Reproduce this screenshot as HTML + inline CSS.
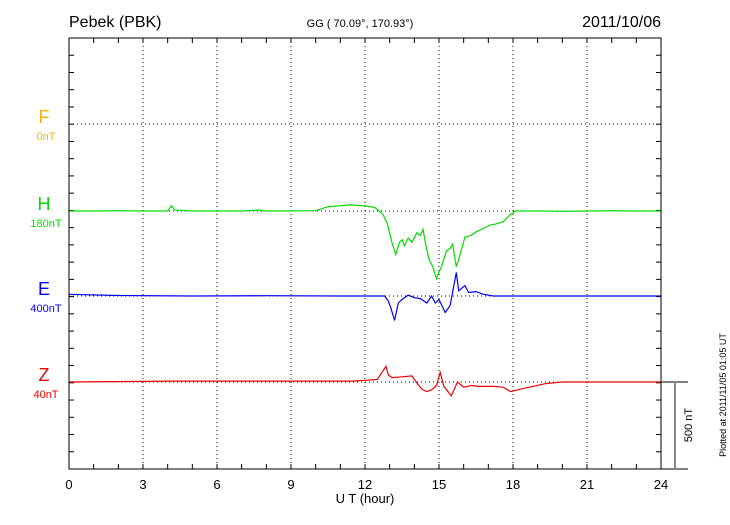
<!DOCTYPE html>
<html><head><meta charset="utf-8"><style>
body{margin:0;background:#fff}
svg{font-family:"Liberation Sans",sans-serif}
</style></head><body>
<svg id="c" width="730" height="520"></svg>
<script>
const tH=[0,1,2,3,4,4.15,4.3,5,7,7.7,8,10,10.5,11.4,12,12.4,12.73,12.9,13.1,13.25,13.4,13.5,13.6,13.75,13.9,14.1,14.25,14.35,14.45,14.6,14.75,14.9,15.0,15.1,15.3,15.45,15.55,15.7,15.8,16.05,16.3,16.5,16.8,17.07,17.3,17.6,17.9,18.1,19,20,21,22,23,24];
const vH=[0,0,2,0,0,30,5,0,0,5,0,2,25,35,30,20,-20,-70,-185,-250,-180,-165,-200,-155,-180,-125,-140,-105,-185,-280,-320,-390,-350,-320,-230,-215,-190,-320,-280,-150,-140,-120,-100,-80,-75,-62,-20,0,0,-2,0,2,0,0];
const tE=[0,2,5,8,11,12.8,12.95,13.05,13.2,13.35,13.5,13.75,14,14.25,14.5,14.7,14.85,15.0,15.25,15.45,15.7,15.8,16.05,16.2,16.5,16.8,17.2,20,24];
const vE=[10,3,0,2,0,0,-30,-70,-140,-40,-20,5,-10,-15,-40,0,-40,-20,-95,-55,135,30,60,20,25,10,0,0,0];
const tZ=[0,4.3,11.5,12,12.5,12.85,12.95,13.1,13.5,13.9,14.1,14.3,14.5,14.7,14.9,15.05,15.2,15.5,15.75,16,16.3,16.6,17.2,17.6,17.9,18.5,19.3,20,24];
const vZ=[0,5,5,10,15,90,40,25,30,35,-5,-40,-55,-45,-20,55,-25,-80,0,-30,-20,-25,-25,-30,-55,-35,-10,0,0];
const xTicks=[0,3,6,9,12,15,18,21,24];
const comps=[{n:"F",b:"0nT",c:"#f7b500",y:124},{n:"H",b:"180nT",c:"#00dd00",y:211,t:tH,v:vH},{n:"E",b:"400nT",c:"#0000ee",y:296,t:tE,v:vE},{n:"Z",b:"40nT",c:"#ee0000",y:382,t:tZ,v:vZ}];
const L=69,R=661,T=38,B=469,pxPerNT=87/500;
const X=h=>L+(R-L)*h/24;
const NS="http://www.w3.org/2000/svg";
const svg=document.getElementById('c');
function mk(tag,a,txt){const e=document.createElementNS(NS,tag);for(const k in a)e.setAttribute(k,a[k]);if(txt!==undefined)e.textContent=txt;svg.appendChild(e);return e;}
let e;
e=mk('text',{x:69,y:27,'font-size':16},'Pebek (PBK)');


e=mk('text',{x:360,y:27,'font-size':11,'text-anchor':'middle'},'GG ( 70.09°, 170.93°)');


e=mk('text',{x:661,y:27,'font-size':16,'text-anchor':'end'},'2011/10/06');


// grid
xTicks.forEach((h,i)=>{
 if(i>0&&i<8){e=mk('line',{x1:X(h),x2:X(h),y1:T,y2:B,stroke:'#000','stroke-width':1,'stroke-dasharray':'1,3'});
 
 }
 e=mk('text',{x:X(h),y:489,'font-size':13,'text-anchor':'middle'},h);
 
 
});
for(let h=1;h<24;h++){mk('line',{x1:X(h),x2:X(h),y1:T,y2:T+5,stroke:'#000'});mk('line',{x1:X(h),x2:X(h),y1:B,y2:B-5,stroke:'#000'});}
for(let k=1;k<25;k++){const y=T+k*(B-T)/25;mk('line',{x1:L,x2:L+5,y1:y,y2:y,stroke:'#000'});mk('line',{x1:R,x2:R-5,y1:y,y2:y,stroke:'#000'});}
comps.forEach(c=>{
 e=mk('line',{x1:L,x2:R,y1:c.y,y2:c.y,stroke:'#000','stroke-dasharray':'1,3'});
 
 
 e=mk('text',{x:44,y:c.y-1,'font-size':18,fill:c.c,'text-anchor':'middle'},c.n);
 
 
 e=mk('text',{x:46,y:c.y+16,'font-size':11,fill:c.c,'text-anchor':'middle'},c.b);
 
 
 if(c.t){
  const d=c.t.map((h,i)=>(i?'L':'M')+X(h).toFixed(1)+','+(c.y-c.v[i]*pxPerNT).toFixed(1)).join('');
  e=mk('path',{d:d,fill:'none',stroke:c.c,'stroke-width':1.2});
  
  
 }
});
e=mk('rect',{x:L,y:T,width:R-L,height:B-T,fill:'none',stroke:'#000','stroke-width':1});


e=mk('text',{x:365,y:503,'font-size':13,'text-anchor':'middle'},'U T (hour)');


// scale bar
mk('line',{x1:R,x2:688,y1:382,y2:382,stroke:'#000'});
mk('line',{x1:R,x2:688,y1:B,y2:B,stroke:'#000'});
e=mk('line',{x1:675,x2:675,y1:382,y2:B,stroke:'#888','stroke-width':2});


e=mk('text',{x:0,y:0,'font-size':11,'text-anchor':'middle',transform:'translate(692,425) rotate(-90)'},'500 nT');


e=mk('text',{x:0,y:0,'font-size':9,'text-anchor':'middle',transform:'translate(726,395) rotate(-90)'},'Plotted at 2011/11/05 01:05 UT');


</script>
</body></html>
